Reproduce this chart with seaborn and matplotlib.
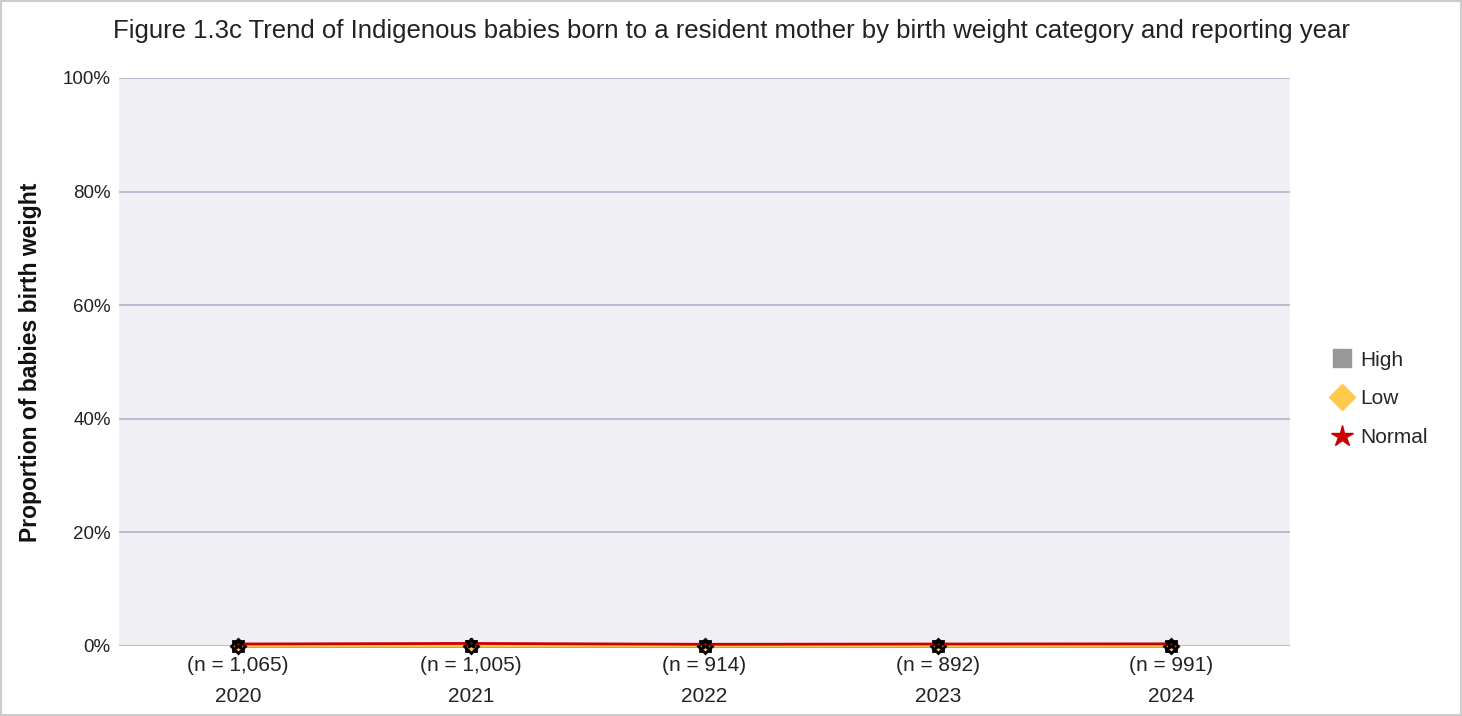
import matplotlib
matplotlib.use("Agg")
import matplotlib.pyplot as plt
import seaborn as sns
import pandas as pd
from matplotlib.lines import Line2D

years = ["2020", "2021", "2022", "2023", "2024"]
n_labels = ["(n = 1,065)", "(n = 1,005)", "(n = 914)", "(n = 892)", "(n = 991)"]
categories = ["High", "Low", "Normal"]
high = [0.01, 0.01, 0.01, 0.01, 0.01]
low = [0.06, 0.07, 0.06, 0.06, 0.06]
normal = [0.35, 0.45, 0.30, 0.35, 0.38]
y_ticks = [0, 20, 40, 60, 80, 100]

rows = []
for cat, vals in zip(categories, [high, low, normal]):
    for i, v in enumerate(vals):
        rows.append({"year": i, "cat": cat, "value": v})
df = pd.DataFrame(rows)

colors = {"High": "#999999", "Low": "#ffc94d", "Normal": "#cc0000"}
markers = {"High": "s", "Low": "D", "Normal": "*"}

sns.set_theme(style="white")
plt.rcParams["font.family"] = ["Liberation Sans", "DejaVu Sans"]

fig = plt.figure(figsize=(14.62, 7.16), dpi=100)
ax_w = 1290 - 119
ax = fig.add_axes([119 / 1462, 1 - 646 / 716, ax_w / 1462, (646 - 78) / 716])
ax.set_facecolor("#efeff4")

sns.lineplot(data=df, x="year", y="value", hue="cat", style="cat",
             palette=colors, markers=markers, dashes=False, ax=ax,
             linewidth=2, markersize=7, markeredgecolor="black",
             markeredgewidth=2, legend=False, zorder=3, clip_on=False)

ax.set_xlim(-0.51, 4.51)
ax.set_ylim(0, 100)
ax.set_yticks(y_ticks)
ax.set_yticklabels([f"{t}%" for t in y_ticks], fontsize=13.5, color="#222222")
ax.set_xticks(range(len(years)))
ax.set_xticklabels([f"{n}\n{y}" for n, y in zip(n_labels, years)],
                   fontsize=15, color="#222222", linespacing=1.85)
ax.tick_params(axis="y", length=3, width=1, color="#bbbbbb", pad=3)
ax.tick_params(axis="x", length=0, pad=7)
ax.grid(axis="y", color="#b4b4cc", linewidth=1.2)
ax.set_axisbelow(True)
for s in ax.spines.values():
    s.set_visible(False)
ax.set_xlabel("")
ax.set_ylabel("Proportion of babies birth weight", fontsize=16.5, fontweight="bold",
              color="#111111")
ax.yaxis.set_label_coords((42 - 119) / ax_w, 0.5)

fig.text(0.5 * (107 + 1355) / 1462, 1 - 31 / 716,
         "Figure 1.3c Trend of Indigenous babies born to a resident mother by birth weight category and reporting year",
         ha="center", va="center", fontsize=18.5, color="#222222")

handles = [Line2D([], [], linestyle="none", marker=markers[c], color=colors[c],
                  markersize=13 if c != "Normal" else 16) for c in categories]
leg = fig.legend(handles, categories, loc="center left",
                 bbox_to_anchor=(1310 / 1462, 1 - 399 / 716), frameon=False,
                 fontsize=15, handletextpad=0.2, labelspacing=0.95, handlelength=1.3)

border = plt.Rectangle((0.001, 0.001), 0.998, 0.998, transform=fig.transFigure,
                       fill=False, edgecolor="#cccccc", linewidth=1.5)
fig.patches.append(border)

fig.savefig("out.png", dpi=100, facecolor="white")
